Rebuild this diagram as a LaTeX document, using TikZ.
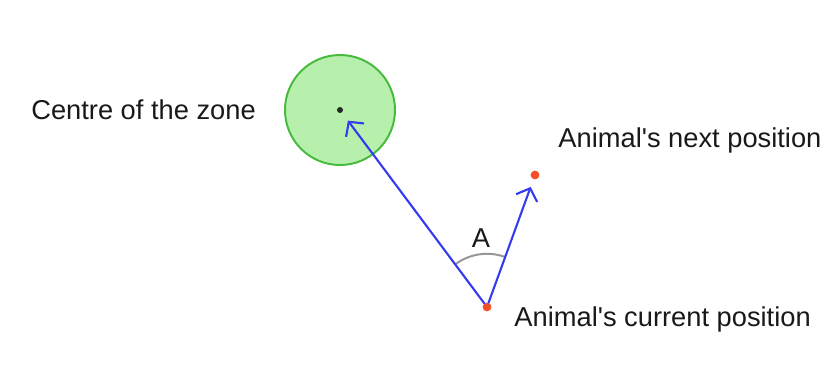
\documentclass[tikz,border=0pt]{standalone}
\usepackage{fontspec}
\setmainfont{Liberation Sans}
\usetikzlibrary{arrows.meta, positioning, calc, angles}
\definecolor{zoneGreen}{RGB}{72,186,62}
\definecolor{zoneGreenBg}{RGB}{182,240,172}
\definecolor{moveBlue}{RGB}{52,58,238}
\definecolor{posRed}{RGB}{246,78,38}
\definecolor{arcGray}{RGB}{150,150,150}
\tikzset{
    sketch/.style={line cap=round, line join=round,
                   font=\fontsize{19.4}{22}\selectfont},
    zonedisc/.style={circle, draw=zoneGreen, line width=1.4pt,
                     fill=zoneGreenBg, minimum size=2.75cm, inner sep=0pt},
    dot/.style={circle, fill=black!85, minimum size=0.15cm, inner sep=0pt},
    posdot/.style={dot, fill=posRed, minimum size=0.22cm},
    move/.style={-{Straight Barb[length=2.6mm, width=5.6mm, line width=1.5pt]},
                 line width=1.5pt, draw=moveBlue},
    tag/.style={inner sep=0pt, text=black!90},
}

\begin{document}
\begin{tikzpicture}[sketch,
    anglearc/.style={draw=arcGray, line width=1.4pt},
]
\useasboundingbox (0,0) rectangle (20.7,-9.15);

% ─── Zone et positions ──────────────────────────────────────────────────
\node[zonedisc] (zone)    at (8.5,-2.75)     {};
\node[dot]      (centre)  at (zone.center)   {};
\node[posdot]   (current) at (12.175,-7.675) {};
\node[posdot]   (next)    at (13.375,-4.375) {};

% ─── Labels ─────────────────────────────────────────────────────────────
\node[tag, left=0.7cm of zone] (centrelbl) {Centre of the zone};
\node[tag, anchor=south west] (nextlbl) at ($(next)+(0.58,0.55)$) {Animal\textquotesingle s next position};
\node[tag, anchor=west] (currentlbl) at ($(current)+(0.68,-0.3)$) {Animal\textquotesingle s current position};

% ─── Angle A ────────────────────────────────────────────────────────────
\pic[anglearc, angle radius=1.33cm] {angle=next--current--centre};
\node[tag] (anglea) at ($(current)+(95:1.72)$) {A};

% ─── Deplacements ───────────────────────────────────────────────────────
\draw[move, shorten >=0.25cm] (current) -- (centre);
\draw[move, shorten >=0.2cm]  (current) -- (next);

\end{tikzpicture}
\end{document}
